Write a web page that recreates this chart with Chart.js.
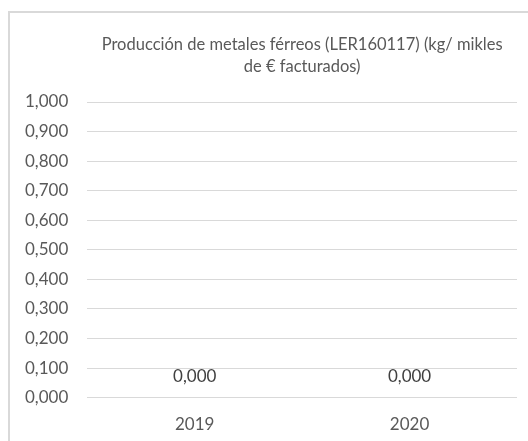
<!DOCTYPE html>
<html>
<head>
<meta charset="utf-8">
<script src="https://cdn.jsdelivr.net/npm/chart.js@4"></script>
<style>
  body { margin: 0; background: #fff; }
  #frame { position: absolute; left: 8px; top: 11px; width: 560px; height: 470px; border: 2px solid #d9d9d9; }
  #wrap { position: absolute; left: 0; top: 0; width: 528px; height: 441px; }
</style>
</head>
<body>
<div id="frame"></div>
<div id="wrap"><canvas id="place__graph1"></canvas></div>
<script>
const categories = ['2019', '2020'];
const values = [0, 0];
const titleLines = ['Producción de metales férreos (LER160117) (kg/ mikles', 'de € facturados)'];
const yTicks = [0, 0.1, 0.2, 0.3, 0.4, 0.5, 0.6, 0.7, 0.8, 0.9, 1.0];

const fmt = v => v.toFixed(3).replace('.', ',');
const FONT = 'Lato, "Open Sans", sans-serif';

// title centred on the plot area, like the original
const titlePlugin = {
    id: 'plotTitle',
    afterDraw(chart) {
        const c = chart.ctx, a = chart.chartArea;
        c.save();
        c.fillStyle = '#595959';
        c.font = '16.5px ' + FONT;
        c.textAlign = 'center';
        c.textBaseline = 'middle';
        titleLines.forEach((t, i) => c.fillText(t, (a.left + a.right) / 2, 45 + i * 22));
        c.restore();
    }
};

const labelPlugin = {
    id: 'valueLabels',
    afterDatasetsDraw(chart) {
        const c = chart.ctx;
        const meta = chart.getDatasetMeta(0);
        c.save();
        c.fillStyle = '#404040';
        c.font = '17px ' + FONT;
        c.textAlign = 'center';
        c.textBaseline = 'middle';
        meta.data.forEach((el, i) => {
            c.fillText(fmt(values[i]), el.x, el.y - 21);
        });
        c.restore();
    }
};

const ctx = document.getElementById('place__graph1').getContext('2d');
const chart = new Chart(ctx, {
    type: 'bar',
    data: {
        labels: categories,
        datasets: [{
            data: values,
            backgroundColor: '#4472c4'
        }]
    },
    options: {
        responsive: true,
        maintainAspectRatio: false,
        animation: false,
        layout: { padding: { top: 102, right: 11, bottom: -3, left: 6 } },
        plugins: { legend: { display: false }, tooltip: { enabled: false } },
        scales: {
            x: {
                grid: { display: false },
                border: { display: false },
                ticks: { color: '#595959', font: { family: FONT, size: 17 }, padding: 9 }
            },
            y: {
                min: 0,
                max: 1,
                afterBuildTicks: axis => { axis.ticks = yTicks.map(v => ({ value: v })); },
                grid: { color: '#d9d9d9', drawTicks: false },
                border: { display: false },
                ticks: { color: '#595959', font: { family: FONT, size: 17 }, padding: 19, callback: v => fmt(v) }
            }
        }
    },
    plugins: [titlePlugin, labelPlugin]
});
</script>
</body>
</html>
